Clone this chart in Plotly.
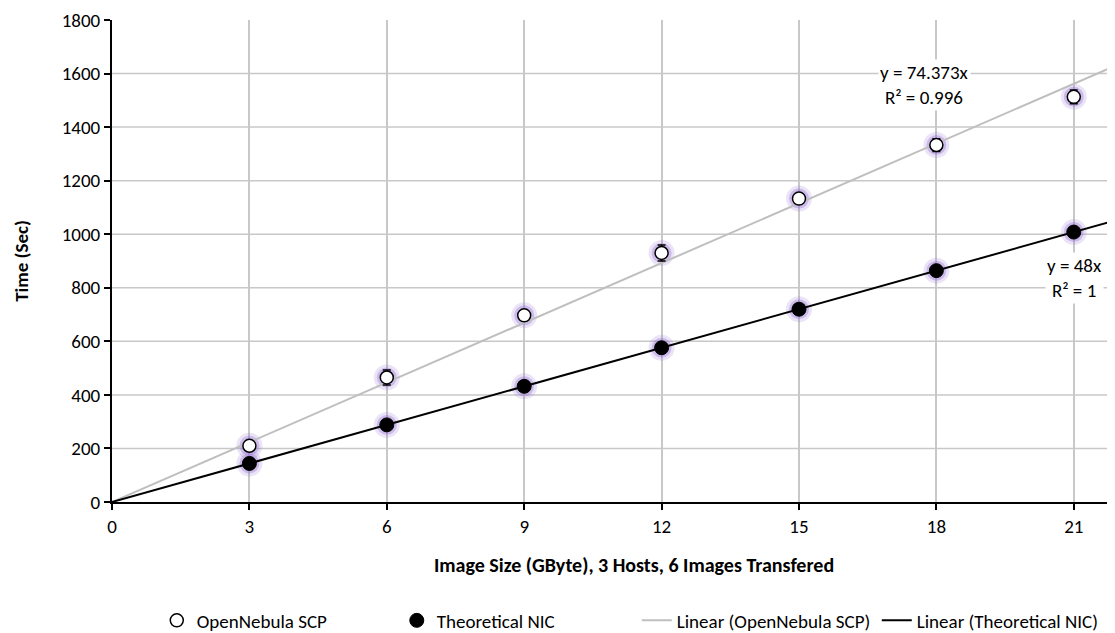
import plotly.graph_objects as go

# Data
image_size = [3, 6, 9, 12, 15, 18, 21]
opennebula_scp = [210, 465, 697, 930, 1133, 1333, 1513]
opennebula_err = [10, 28, 12, 30, 12, 24, 26]
theoretical_nic = [144, 288, 432, 576, 720, 864, 1008]
slope_scp = 74.373
slope_nic = 48.0
fit_x = [0, 22]
x_ticks = [0, 3, 6, 9, 12, 15, 18, 21]
y_ticks = [0, 200, 400, 600, 800, 1000, 1200, 1400, 1600, 1800]

FONT = "Carlito, Calibri, Lato, sans-serif"
GLOW1 = "rgba(155,120,215,0.20)"
GLOW2 = "rgba(145,110,210,0.35)"
GRID = "#c8c8c8"

fig = go.Figure()

# glow halos
for ys in (opennebula_scp, theoretical_nic):
    fig.add_trace(go.Scatter(x=image_size, y=ys, mode="markers",
                             marker=dict(size=26, color=GLOW1, line=dict(width=0)),
                             showlegend=False, hoverinfo="skip"))
    fig.add_trace(go.Scatter(x=image_size, y=ys, mode="markers",
                             marker=dict(size=20, color=GLOW2, line=dict(width=0)),
                             showlegend=False, hoverinfo="skip"))

# trendlines
fig.add_trace(go.Scatter(x=fit_x, y=[slope_scp * v for v in fit_x], mode="lines",
                         line=dict(color="#bfbfbf", width=2),
                         name="Linear (OpenNebula SCP)", legendrank=3))
fig.add_trace(go.Scatter(x=fit_x, y=[slope_nic * v for v in fit_x], mode="lines",
                         line=dict(color="black", width=2),
                         name="Linear (Theoretical NIC)", legendrank=4))

# data markers
fig.add_trace(go.Scatter(x=image_size, y=opennebula_scp, mode="markers",
                         marker=dict(size=13, color="white", line=dict(color="black", width=1.5)),
                         error_y=dict(type="data", array=opennebula_err, color="black",
                                      thickness=1.5, width=4),
                         name="OpenNebula SCP", legendrank=1))
fig.add_trace(go.Scatter(x=image_size, y=theoretical_nic, mode="markers",
                         marker=dict(size=14, color="black", line=dict(color="black", width=1)),
                         name="Theoretical NIC", legendrank=2))

# horizontal gridlines (none at the top edge)
for yv in y_ticks[1:-1]:
    fig.add_shape(type="line", xref="paper", yref="y", x0=0, x1=1, y0=yv, y1=yv,
                  line=dict(color=GRID, width=1.5), layer="below")

fig.add_annotation(x=17.75, y=1557, xref="x", yref="y",
                   text=f"y = {slope_scp}x<br>R² = 0.996", showarrow=False,
                   bgcolor="white", font=dict(family=FONT, size=19, color="black"))
fig.add_annotation(x=21.02, y=836, xref="x", yref="y",
                   text=f"y = {slope_nic:g}x<br>R² = 1", showarrow=False,
                   bgcolor="white", font=dict(family=FONT, size=19, color="black"))
fig.add_annotation(x=0.52, y=-0.131, xref="paper", yref="paper",
                   xanchor="center", yanchor="middle", showarrow=False,
                   text="<b>Image Size (GByte), 3 Hosts, 6 Images Transfered</b>",
                   font=dict(family=FONT, size=20, color="black"))

fig.update_layout(
    width=1107, height=625,
    margin=dict(l=104, r=0, t=12, b=131),
    paper_bgcolor="white", plot_bgcolor="white",
    font=dict(family=FONT, size=19, color="black"),
    legend=dict(orientation="h", xref="container", yref="container",
                x=0.568, y=0.02, xanchor="center", yanchor="middle",
                entrywidth=195,
                font=dict(family=FONT, size=19, color="black"),
                traceorder="normal"),
    xaxis=dict(range=[0, 21.9], tickvals=x_ticks, showgrid=True,
               gridcolor=GRID, gridwidth=1.5, zeroline=False,
               showline=True, linecolor="black", linewidth=2,
               ticks="outside", ticklen=6, tickcolor="black", tickwidth=2,
               tickfont=dict(family=FONT, size=19)),
    yaxis=dict(range=[0, 1800], tickvals=y_ticks, showgrid=False,
               zeroline=False,
               showline=True, linecolor="black", linewidth=2,
               ticks="outside", ticklen=6, tickcolor="black", tickwidth=2,
               tickfont=dict(family=FONT, size=19),
               title=dict(text="<b>Time (Sec)</b>", font=dict(family=FONT, size=19),
                          standoff=28)),
)

fig.write_html("out.html")
